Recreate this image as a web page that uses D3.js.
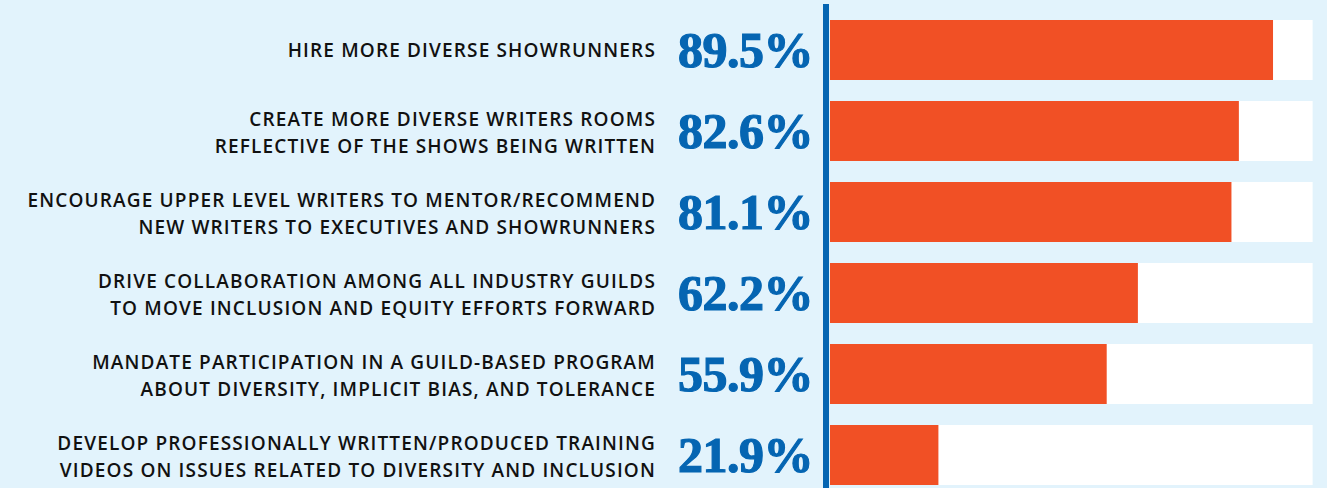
<!DOCTYPE html>
<html>
<head>
<meta charset="utf-8">
<script src="https://cdn.jsdelivr.net/npm/d3@7"></script>
<style>
  html, body { margin: 0; padding: 0; background: #e2f3fc; }
  svg { display: block; }
</style>
</head>
<body>
<script>
// data
var labels = [
  ["HIRE MORE DIVERSE SHOWRUNNERS"],
  ["CREATE MORE DIVERSE WRITERS ROOMS", "REFLECTIVE OF THE SHOWS BEING WRITTEN"],
  ["ENCOURAGE UPPER LEVEL WRITERS TO MENTOR/RECOMMEND", "NEW WRITERS TO EXECUTIVES AND SHOWRUNNERS"],
  ["DRIVE COLLABORATION AMONG ALL INDUSTRY GUILDS", "TO MOVE INCLUSION AND EQUITY EFFORTS FORWARD"],
  ["MANDATE PARTICIPATION IN A GUILD-BASED PROGRAM", "ABOUT DIVERSITY, IMPLICIT BIAS, AND TOLERANCE"],
  ["DEVELOP PROFESSIONALLY WRITTEN/PRODUCED TRAINING", "VIDEOS ON ISSUES RELATED TO DIVERSITY AND INCLUSION"]
];
var values = [89.5, 82.6, 81.1, 62.2, 55.9, 21.9];
var trackMax = 97.5;

var width = 1327, height = 488;

var svg = d3.select('body').append('svg')
  .attr('width', width)
  .attr('height', height);

svg.append('rect')
  .attr('width', width).attr('height', height)
  .attr('fill', '#e2f3fc');

var x = d3.scaleLinear().domain([0, 100]).range([830, 1325]);
var y = d3.scaleBand()
  .domain(d3.range(values.length))
  .range([20, 485])
  .paddingInner(21 / 81)
  .paddingOuter(0);

var rows = svg.selectAll('g.row')
  .data(values)
  .enter().append('g')
  .attr('class', 'row');

// white track
rows.append('rect')
  .attr('x', x(0))
  .attr('y', function(d, i) { return y(i); })
  .attr('width', x(trackMax) - x(0))
  .attr('height', y.bandwidth())
  .attr('fill', '#ffffff');

// bar
rows.append('rect')
  .attr('x', x(0))
  .attr('y', function(d, i) { return y(i); })
  .attr('width', function(d) { return x(d) - x(0); })
  .attr('height', y.bandwidth())
  .attr('fill', '#f15025');

// percent values
rows.append('text')
  .attr('x', 813)
  .attr('y', function(d, i) { return y(i) + y.bandwidth() / 2 + 17; })
  .attr('text-anchor', 'end')
  .attr('fill', '#0565b2')
  .attr('stroke', '#0565b2')
  .attr('stroke-width', 1.2)
  .style('font-family', '"Liberation Serif", serif')
  .style('font-weight', 'bold')
  .style('font-size', '50px')
  .style('letter-spacing', '-0.5px')
  .text(function(d) { return d.toFixed(1) + '%'; });

// labels
rows.append('text')
  .attr('text-anchor', 'end')
  .attr('fill', '#111')
  .style('font-family', '"Open Sans", sans-serif')
  .style('font-weight', 600)
  .style('font-size', '19px')
  .style('letter-spacing', '1.15px')
  .each(function(d, i) {
    var lines = labels[i];
    var cy = y(i) + y.bandwidth() / 2;
    var t = d3.select(this);
    lines.forEach(function(line, j) {
      var base = lines.length === 1 ? cy + 7 : (j === 0 ? cy - 5 : cy + 22);
      t.append('tspan')
        .attr('x', 656)
        .attr('y', base)
        .text(line);
    });
  });

// vertical axis line
svg.append('line')
  .attr('x1', 826).attr('x2', 826)
  .attr('y1', 4).attr('y2', height)
  .attr('stroke', '#0565b2')
  .attr('stroke-width', 6);
</script>
</body>
</html>
